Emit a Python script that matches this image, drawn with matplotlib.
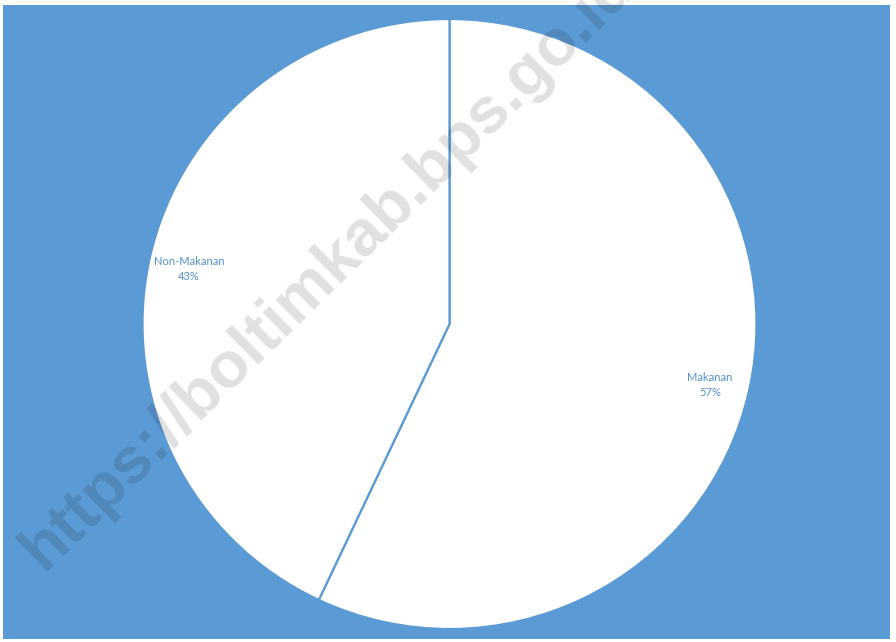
import numpy as np
import matplotlib.pyplot as plt

labels = ['Makanan', 'Non-Makanan']
shares = [57, 43]

W, H = 896, 642
bg = '#5b9bd5'
txt_blue = '#5592d0'

fig = plt.figure(figsize=(W / 100, H / 100), dpi=100)
fig.patch.set_facecolor('white')

# blue chart area with a thin white margin
back = fig.add_axes([3 / W, 3 / H, 887 / W, 634 / H], zorder=0)
back.set_facecolor(bg)
back.set_xticks([])
back.set_yticks([])
for s in back.spines.values():
    s.set_visible(False)

cx, cy, rx, ry = 449.5, 324, 307, 305
ax = fig.add_axes([(cx - rx) / W, (H - cy - ry) / H, 2 * rx / W, 2 * ry / H],
                  zorder=1)
ax.set_facecolor('none')

wedges, texts = ax.pie(shares, labels=None, startangle=90, counterclock=False,
                       colors=['white', 'white'],
                       wedgeprops=dict(edgecolor=bg, linewidth=1.6))
ax.set_aspect('auto')
for w, lab, v in zip(wedges, labels, shares):
    ang = np.deg2rad((w.theta1 + w.theta2) / 2)
    d = 0.87
    ax.text(d * np.cos(ang), d * np.sin(ang) - 0.01, f'{lab}\n{v}%',
            ha='center', va='center', fontsize=8, color=txt_blue,
            family='Lato', linespacing=1.4)
ax.set_xlim(-1, 1)
ax.set_ylim(-1, 1)
ax.axis('off')

# watermark
fig.text(43 / W, 1 - 572 / H, 'https://boltimkab.bps.go.id', rotation=44.5,
         rotation_mode='anchor', ha='left', va='baseline', fontsize=47,
         fontweight='bold', family='Liberation Sans', color='black',
         alpha=0.12, zorder=10, clip_on=True)

fig.savefig('out.png', dpi=100, facecolor=fig.get_facecolor())
